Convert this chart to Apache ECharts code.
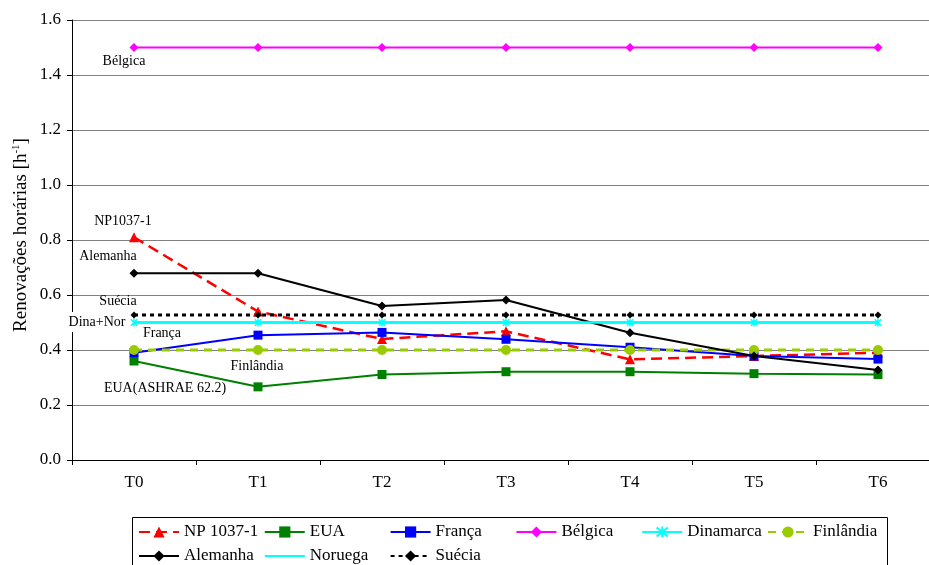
<!DOCTYPE html>
<html>
<head>
<meta charset="utf-8">
<script src="https://cdn.jsdelivr.net/npm/echarts@6/dist/echarts.min.js"></script>
<style>html,body{margin:0;padding:0;background:#fff;overflow:hidden;width:929px;height:565px;}#c{width:941px;height:565px;}</style>
</head>
<body>
<div id="c"></div>
<script>
const categories = ['T0','T1','T2','T3','T4','T5','T6'];
const np1037 = [0.81, 0.54, 0.44, 0.468, 0.366, 0.378, 0.39];
const eua = [0.36, 0.266, 0.311, 0.321, 0.321, 0.314, 0.311];
const franca = [0.39, 0.454, 0.464, 0.439, 0.41, 0.378, 0.367];
const belgica = [1.5, 1.5, 1.5, 1.5, 1.5, 1.5, 1.5];
const dinamarca = [0.5, 0.5, 0.5, 0.5, 0.5, 0.5, 0.5];
const finlandia = [0.4, 0.4, 0.4, 0.4, 0.4, 0.4, 0.4];
const alemanha = [0.679, 0.679, 0.56, 0.582, 0.463, 0.378, 0.327];
const noruega = [0.5, 0.5, 0.5, 0.5, 0.5, 0.5, 0.5];
const suecia = [0.527, 0.527, 0.527, 0.527, 0.527, 0.527, 0.527];
const yTicks = [0, 0.2, 0.4, 0.6, 0.8, 1.0, 1.2, 1.4, 1.6];
const seriesNames = ['NP 1037-1','EUA','França','Bélgica','Dinamarca','Finlândia','Alemanha','Noruega','Suécia'];
const annotations = [
  ['Bélgica', 124, 61], ['NP1037-1', 123, 221], ['Alemanha', 108, 256], ['Suécia', 118, 301],
  ['Dina+Nor', 97, 322], ['França', 162, 333], ['Finlândia', 257, 366], ['EUA(ASHRAE 62.2)', 165, 388]
];

const FONT = '"Liberation Serif","Times New Roman",serif';
const asterisk = 'path://M1,1L9,9M9,1L1,9M5,0L5,10';

function mk(name, data, color, symbol, size, lineType, width, showSym) {
  return {
    name: name, type: 'line', data: data,
    symbol: symbol, symbolSize: size, showSymbol: showSym !== false,
    symbolKeepAspect: true,
    lineStyle: { color: color, width: width, type: lineType },
    itemStyle: { color: color, borderColor: color, borderWidth: symbol === asterisk ? 1.5 : 0 },
    animation: false, emphasis: { disabled: true }
  };
}

const legendData = seriesNames.map(n => n === 'Noruega' ? { name: n, itemStyle: { opacity: 0 } } : { name: n });

const chart = echarts.init(document.getElementById('c'), null, { renderer: 'canvas' });
chart.setOption({
  backgroundColor: '#ffffff',
  animation: false,
  grid: { left: 72, top: 20, right: 1, height: 440 },
  xAxis: {
    type: 'category', data: categories, boundaryGap: true,
    axisLine: { lineStyle: { color: '#000', width: 1 } },
    axisTick: { show: true, length: 5, lineStyle: { color: '#000' } },
    axisLabel: { color: '#000', fontFamily: FONT, fontSize: 17, margin: 14 },
    splitLine: { show: false }
  },
  yAxis: {
    type: 'value', min: yTicks[0], max: yTicks[yTicks.length - 1], interval: 0.2,
    axisLine: { show: true, lineStyle: { color: '#000', width: 1 } },
    axisTick: { show: true, length: 5, lineStyle: { color: '#000' } },
    axisLabel: { color: '#000', fontFamily: FONT, fontSize: 17, margin: 11, formatter: v => v.toFixed(1) },
    splitLine: { show: true, lineStyle: { color: '#808080', width: 1 } }
  },
  legend: {
    data: legendData,
    left: 138, top: 520, width: 790, padding: 0,
    itemWidth: 40, itemHeight: 14, itemGap: 0,
    selectedMode: false,
    textStyle: { fontFamily: FONT, fontSize: 17, color: '#000', width: 79.8, lineHeight: 24 }
  },
  series: [
    mk('NP 1037-1', np1037, '#FF0000', 'triangle', 10, [11, 6], 2.5),
    mk('EUA', eua, '#008000', 'rect', 9, 'solid', 2),
    mk('França', franca, '#0000FF', 'rect', 9, 'solid', 2),
    mk('Bélgica', belgica, '#FF00FF', 'diamond', 9, 'solid', 2),
    mk('Dinamarca', dinamarca, '#00FFFF', asterisk, 8, 'solid', 2.5),
    mk('Finlândia', finlandia, '#99CC00', 'circle', 10, [8, 6], 3),
    mk('Alemanha', alemanha, '#000000', 'diamond', 9, 'solid', 2),
    mk('Noruega', noruega, '#00FFFF', 'none', 0, 'solid', 2.5, false),
    mk('Suécia', suecia, '#000000', 'diamond', 7, [4, 4], 3)
  ],
  graphic: [
    { type: 'rect', z: 100, shape: { x: 132.5, y: 517.5, width: 755, height: 60 },
      style: { fill: 'none', stroke: '#000', lineWidth: 1 } },
    { type: 'text', z: 100, x: 21, y: 235, rotation: Math.PI / 2,
      style: { text: 'Renovações horárias [h{sup|-1}]', fontFamily: FONT, fontSize: 19, fill: '#000',
        textAlign: 'center', textVerticalAlign: 'middle', align: 'center', verticalAlign: 'middle',
        rich: { sup: { fontFamily: FONT, fontSize: 11, verticalAlign: 'top', lineHeight: 20 } } } }
  ].concat(annotations.map(a => ({
    type: 'text', z: 100, x: a[1], y: a[2],
    style: { text: a[0], fontFamily: FONT, fontSize: 14, fill: '#000',
      textAlign: 'center', textVerticalAlign: 'middle', align: 'center', verticalAlign: 'middle',
      backgroundColor: a[0] === 'Dina+Nor' ? '#fff' : null, padding: a[0] === 'Dina+Nor' ? [3, 1] : 0 }
  })))
});
</script>
</body>
</html>
